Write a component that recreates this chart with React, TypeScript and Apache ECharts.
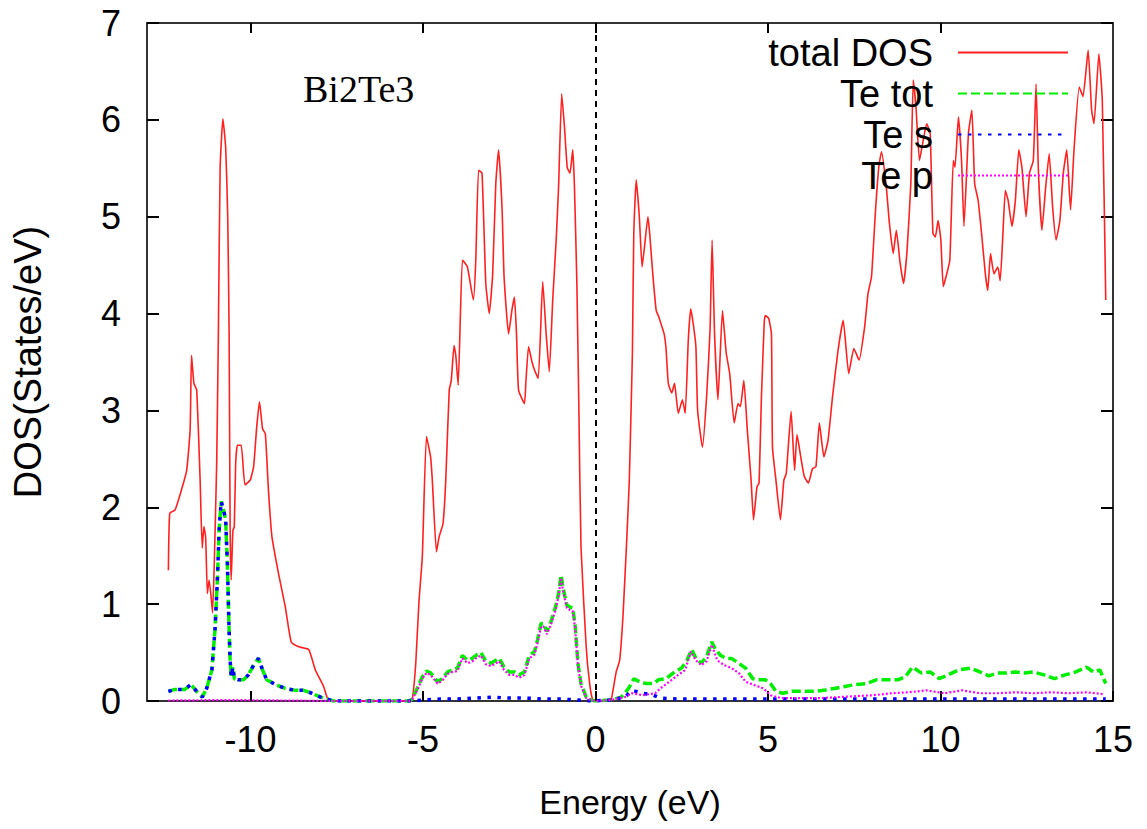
import React, { useEffect, useRef } from "react";
import * as echarts from "echarts";

const xTicks = [-10, -5, 0, 5, 10, 15];
const xTopTicks = [-10, -5, 0, 5, 10];
const seriesNames = ["total DOS", "Te tot", "Te s", "Te p"];

const totalDos: number[][] = [
  [-12.38, 1.35], [-12.34, 1.94], [-12.19, 1.97], [-12.0, 2.18], [-11.85, 2.38], [-11.75, 2.8],
  [-11.71, 3.57], [-11.64, 3.28], [-11.56, 3.21], [-11.46, 2.28], [-11.4, 1.58], [-11.35, 1.8],
  [-11.3, 1.69], [-11.25, 1.11], [-11.2, 1.25], [-11.14, 1.07], [-11.1, 0.91], [-11.05, 1.42],
  [-10.98, 2.46], [-10.93, 3.83], [-10.88, 5.51], [-10.8, 6.01], [-10.72, 5.72], [-10.66, 5.0],
  [-10.62, 3.8], [-10.59, 1.76], [-10.56, 1.25], [-10.51, 1.76], [-10.47, 1.8], [-10.43, 2.45],
  [-10.38, 2.64], [-10.27, 2.64], [-10.16, 2.23], [-10.01, 2.28], [-9.91, 2.42], [-9.82, 2.83],
  [-9.74, 3.09], [-9.65, 2.81], [-9.57, 2.76], [-9.48, 2.18], [-9.38, 1.7], [-9.19, 1.32],
  [-8.99, 0.97], [-8.82, 0.61], [-8.6, 0.56], [-8.31, 0.53], [-8.12, 0.32], [-7.88, 0.15],
  [-7.76, 0.02], [-7.6, 0], [-5.4, 0], [-5.31, 0.02], [-5.21, 0.39], [-5.12, 1.01], [-5.02, 1.49],
  [-4.9, 2.73], [-4.78, 2.52], [-4.73, 2.28], [-4.61, 1.54], [-4.53, 1.7], [-4.42, 1.83],
  [-4.34, 2.28], [-4.24, 3.21], [-4.18, 3.31], [-4.1, 3.67], [-4.05, 3.57], [-3.98, 3.26],
  [-3.86, 4.55], [-3.78, 4.52], [-3.71, 4.48], [-3.54, 4.14], [-3.47, 4.55], [-3.39, 5.48],
  [-3.29, 5.45], [-3.18, 4.31], [-3.08, 4.0], [-2.98, 4.41], [-2.89, 5.34], [-2.81, 5.69],
  [-2.71, 5.1], [-2.65, 4.38], [-2.52, 3.79], [-2.42, 4.04], [-2.35, 4.17], [-2.29, 3.79],
  [-2.23, 3.21], [-2.06, 3.07], [-2.02, 3.28], [-1.94, 3.66], [-1.84, 3.5], [-1.77, 3.42],
  [-1.66, 3.33], [-1.53, 4.33], [-1.43, 3.79], [-1.34, 3.4], [-1.24, 4.14], [-1.14, 4.76],
  [-1.07, 5.31], [-0.98, 6.27], [-0.9, 5.93], [-0.82, 5.51], [-0.74, 5.45], [-0.66, 5.69],
  [-0.61, 5.31], [-0.54, 4.31], [-0.48, 2.97], [-0.42, 1.59], [-0.27, 0.56], [-0.17, 0.18],
  [-0.08, 0.01], [0.0, 0], [0.4, 0], [0.46, 0.02], [0.6, 0.3], [0.7, 0.42], [0.8, 0.9],
  [0.91, 1.7], [0.98, 2.28], [1.04, 3.14], [1.07, 3.6], [1.11, 4.83], [1.18, 5.38], [1.27, 5.0],
  [1.35, 4.48], [1.42, 4.69], [1.52, 5.0], [1.57, 4.83], [1.66, 4.41], [1.76, 4.03], [1.83, 3.97],
  [1.93, 3.86], [1.99, 3.79], [2.04, 3.66], [2.11, 3.28], [2.21, 3.18], [2.29, 3.28], [2.4, 2.97],
  [2.52, 3.11], [2.6, 2.97], [2.69, 3.73], [2.76, 4.05], [2.83, 3.9], [2.91, 3.66], [2.96, 3.0],
  [3.1, 2.62], [3.22, 3.14], [3.32, 3.83], [3.38, 4.76], [3.45, 3.8], [3.55, 3.11], [3.68, 4.03],
  [3.79, 3.59], [3.89, 3.38], [4.02, 2.87], [4.13, 3.07], [4.2, 3.04], [4.3, 3.31], [4.4, 2.8],
  [4.51, 2.28], [4.58, 1.87], [4.68, 2.21], [4.74, 2.25], [4.81, 3.14], [4.89, 3.9], [4.92, 3.98],
  [5.02, 3.95], [5.1, 3.79], [5.13, 2.62], [5.23, 2.28], [5.36, 1.87], [5.46, 2.28], [5.53, 2.35],
  [5.67, 2.99], [5.77, 2.38], [5.84, 2.75], [5.95, 2.52], [6.05, 2.32], [6.17, 2.25], [6.29, 2.4],
  [6.39, 2.42], [6.49, 2.87], [6.62, 2.52], [6.74, 2.69], [6.87, 3.14], [7.03, 3.62], [7.18, 3.93],
  [7.34, 3.38], [7.49, 3.64], [7.64, 3.52], [7.8, 3.86], [7.9, 4.21], [8.0, 4.38], [8.11, 5.03],
  [8.21, 5.51], [8.29, 5.67], [8.42, 5.34], [8.52, 4.93], [8.63, 4.62], [8.72, 4.86], [8.83, 4.52],
  [8.93, 4.31], [9.03, 4.65], [9.14, 5.34], [9.21, 6.41], [9.29, 6.13], [9.39, 5.58], [9.5, 5.79],
  [9.6, 5.96], [9.7, 5.86], [9.78, 4.83], [9.85, 4.79], [9.93, 4.96], [10.01, 4.76], [10.08, 4.28],
  [10.16, 4.38], [10.27, 4.55], [10.37, 5.58], [10.42, 5.51], [10.52, 6.03], [10.61, 5.58],
  [10.68, 4.9], [10.81, 5.86], [10.91, 6.1], [10.99, 5.34], [11.09, 5.17], [11.19, 4.83],
  [11.3, 4.41], [11.37, 4.24], [11.45, 4.62], [11.55, 4.41], [11.66, 4.48], [11.73, 4.34],
  [11.81, 4.83], [11.88, 5.27], [11.96, 5.17], [12.07, 4.9], [12.17, 5.17], [12.27, 5.69],
  [12.36, 5.51], [12.48, 5.0], [12.58, 5.45], [12.69, 5.58], [12.77, 6.37], [12.84, 5.45],
  [12.94, 4.86], [13.05, 5.31], [13.15, 5.65], [13.25, 5.1], [13.35, 4.76], [13.46, 4.96],
  [13.56, 5.45], [13.66, 5.69], [13.77, 5.07], [13.87, 5.69], [14.02, 6.34], [14.13, 6.24],
  [14.28, 6.72], [14.38, 6.1], [14.45, 5.96], [14.59, 6.68], [14.69, 6.2], [14.79, 4.14],
];

const teTot: number[][] = [
  [-12.38, 0.1], [-12.19, 0.12], [-11.9, 0.12], [-11.73, 0.17], [-11.56, 0.1], [-11.4, 0.04],
  [-11.27, 0.13], [-11.12, 0.32], [-11.03, 0.73], [-10.96, 1.25], [-10.91, 1.76], [-10.85, 2.06],
  [-10.78, 1.97], [-10.72, 1.87], [-10.67, 1.42], [-10.62, 0.73], [-10.59, 0.42], [-10.56, 0.25],
  [-10.51, 0.35], [-10.47, 0.23], [-10.37, 0.22], [-10.2, 0.22], [-10.06, 0.27], [-9.91, 0.37],
  [-9.77, 0.44], [-9.65, 0.32], [-9.53, 0.22], [-9.28, 0.17], [-8.99, 0.13], [-8.7, 0.11],
  [-8.46, 0.11], [-8.22, 0.08], [-7.97, 0.04], [-7.78, 0.02], [-7.6, 0], [-5.4, 0],
  [-5.31, 0.02], [-5.17, 0.13], [-5.02, 0.25], [-4.9, 0.31], [-4.78, 0.29], [-4.58, 0.2],
  [-4.44, 0.23], [-4.29, 0.3], [-4.15, 0.32], [-4.0, 0.34], [-3.86, 0.47], [-3.71, 0.42],
  [-3.57, 0.44], [-3.47, 0.47], [-3.32, 0.5], [-3.18, 0.41], [-3.03, 0.39], [-2.89, 0.42],
  [-2.79, 0.44], [-2.65, 0.35], [-2.5, 0.3], [-2.35, 0.3], [-2.21, 0.27], [-2.06, 0.3],
  [-1.92, 0.47], [-1.77, 0.51], [-1.68, 0.63], [-1.58, 0.8], [-1.51, 0.8], [-1.41, 0.72],
  [-1.29, 0.82], [-1.16, 0.97], [-1.07, 1.11], [-1.0, 1.3], [-0.93, 1.15], [-0.83, 0.99],
  [-0.74, 0.97], [-0.66, 0.96], [-0.59, 0.78], [-0.51, 0.39], [-0.42, 0.18], [-0.27, 0.04],
  [-0.13, 0.01], [0.0, 0], [0.44, 0.01], [0.75, 0.04], [0.96, 0.13], [1.11, 0.23], [1.27, 0.2],
  [1.47, 0.18], [1.68, 0.18], [1.83, 0.22], [2.04, 0.23], [2.29, 0.3], [2.5, 0.34], [2.65, 0.42],
  [2.79, 0.53], [2.91, 0.44], [3.07, 0.39], [3.22, 0.46], [3.37, 0.61], [3.48, 0.53], [3.63, 0.47],
  [3.79, 0.44], [3.94, 0.44], [4.15, 0.39], [4.35, 0.34], [4.56, 0.23], [4.71, 0.22], [4.92, 0.22],
  [5.07, 0.18], [5.23, 0.1], [5.43, 0.08], [5.69, 0.1], [6.0, 0.1], [6.31, 0.1], [6.62, 0.11],
  [6.92, 0.13], [7.23, 0.15], [7.54, 0.17], [7.85, 0.18], [8.16, 0.22], [8.47, 0.22], [8.78, 0.22],
  [8.98, 0.25], [9.19, 0.35], [9.44, 0.29], [9.7, 0.3], [9.96, 0.23], [10.22, 0.27], [10.52, 0.32],
  [10.88, 0.34], [11.14, 0.3], [11.4, 0.26], [11.66, 0.29], [11.91, 0.29], [12.17, 0.3],
  [12.43, 0.29], [12.69, 0.3], [13.0, 0.27], [13.3, 0.23], [13.61, 0.27], [13.92, 0.3],
  [14.23, 0.35], [14.43, 0.3], [14.62, 0.32], [14.79, 0.18],
];

const teS: number[][] = [
  [-12.38, 0.1], [-12.19, 0.12], [-11.9, 0.12], [-11.73, 0.17], [-11.56, 0.1], [-11.4, 0.04],
  [-11.27, 0.13], [-11.12, 0.32], [-11.03, 0.73], [-10.96, 1.25], [-10.91, 1.76], [-10.85, 2.06],
  [-10.78, 1.97], [-10.72, 1.87], [-10.67, 1.42], [-10.62, 0.73], [-10.59, 0.42], [-10.56, 0.25],
  [-10.51, 0.35], [-10.47, 0.23], [-10.37, 0.22], [-10.2, 0.22], [-10.06, 0.27], [-9.91, 0.37],
  [-9.77, 0.44], [-9.65, 0.32], [-9.53, 0.22], [-9.28, 0.17], [-8.99, 0.13], [-8.7, 0.11],
  [-8.46, 0.11], [-8.22, 0.08], [-7.97, 0.04], [-7.78, 0.02], [-7.6, 0], [-5.4, 0],
  [-5.0, 0.01], [-4.5, 0.02], [-4.0, 0.02], [-3.5, 0.03], [-3.0, 0.04], [-2.5, 0.03],
  [-2.0, 0.03], [-1.5, 0.02], [-1.0, 0.02], [-0.5, 0.01], [-0.13, 0.0], [0.44, 0.01],
  [0.85, 0.04], [1.06, 0.11], [1.37, 0.08], [1.68, 0.06], [1.88, 0.03], [2.4, 0.02],
  [4.0, 0.02], [6.0, 0.02], [8.0, 0.02], [10.0, 0.02], [12.0, 0.02], [14.79, 0.02],
];

const teP: number[][] = [
  [-12.38, 0.005], [-10.8, 0.01], [-9.0, 0.005], [-7.6, 0], [-5.4, 0], [-5.31, 0.02],
  [-5.17, 0.11], [-5.02, 0.23], [-4.9, 0.29], [-4.78, 0.27], [-4.58, 0.18], [-4.44, 0.21],
  [-4.29, 0.28], [-4.15, 0.3], [-4.0, 0.31], [-3.86, 0.44], [-3.71, 0.39], [-3.57, 0.41],
  [-3.47, 0.44], [-3.32, 0.47], [-3.18, 0.38], [-3.03, 0.36], [-2.89, 0.39], [-2.79, 0.41],
  [-2.65, 0.32], [-2.5, 0.27], [-2.35, 0.27], [-2.21, 0.24], [-2.06, 0.27], [-1.92, 0.44],
  [-1.77, 0.48], [-1.68, 0.6], [-1.58, 0.77], [-1.51, 0.77], [-1.41, 0.69], [-1.29, 0.79],
  [-1.16, 0.94], [-1.07, 1.08], [-1.0, 1.27], [-0.93, 1.12], [-0.83, 0.96], [-0.74, 0.94],
  [-0.66, 0.93], [-0.59, 0.75], [-0.51, 0.37], [-0.42, 0.16], [-0.27, 0.03], [-0.13, 0.01],
  [0.0, 0], [0.44, 0.01], [0.85, 0.04], [1.06, 0.08], [1.37, 0.06], [1.73, 0.08], [1.88, 0.13],
  [2.14, 0.2], [2.4, 0.27], [2.6, 0.32], [2.76, 0.51], [2.91, 0.42], [3.07, 0.37], [3.22, 0.41],
  [3.37, 0.58], [3.53, 0.42], [3.73, 0.37], [3.94, 0.34], [4.15, 0.29], [4.35, 0.2], [4.56, 0.17],
  [4.87, 0.13], [5.07, 0.06], [5.38, 0.03], [6.0, 0.03], [6.51, 0.03], [7.03, 0.04], [7.54, 0.05],
  [8.06, 0.06], [8.57, 0.08], [9.08, 0.09], [9.6, 0.11], [10.11, 0.08], [10.63, 0.11],
  [11.14, 0.08], [11.66, 0.08], [12.17, 0.09], [12.69, 0.08], [13.2, 0.09], [13.71, 0.08],
  [14.23, 0.09], [14.74, 0.07],
];

const FONT = "'Liberation Sans', Arial, sans-serif";

export default function App() {
  const ref = useRef<HTMLDivElement>(null);
  useEffect(() => {
    if (!ref.current) return;
    const chart = echarts.init(ref.current, undefined, { renderer: "svg" });
    const axisLine = { show: true, onZero: false, lineStyle: { color: "#333", width: 2 } };
    const option: any = {
      animation: false,
      backgroundColor: "#fff",
      grid: { left: 147, right: 34, top: 23, bottom: 128, containLabel: false },
      legend: {
        data: seriesNames,
        orient: "vertical",
        align: "right",
        right: 73,
        top: 27,
        itemWidth: 110,
        itemHeight: 14,
        itemGap: 0,
        selectedMode: false,
        itemStyle: { opacity: 0 },
        textStyle: {
          fontFamily: FONT,
          fontSize: 38,
          color: "#000",
          lineHeight: 41,
          padding: [0, 20, 0, 0],
        },
      },
      xAxis: [
        {
          type: "value",
          min: -13,
          max: 15,
          position: "bottom",
          name: "Energy (eV)",
          nameLocation: "middle",
          nameGap: 84,
          nameTextStyle: { fontFamily: FONT, fontSize: 34, color: "#000" },
          axisLine,
          splitLine: { show: false },
          axisTick: { inside: true, length: 10, customValues: xTicks, lineStyle: { color: "#000", width: 2 } },
          axisLabel: { customValues: xTicks, fontFamily: FONT, fontSize: 36, color: "#000", margin: 20 },
        },
        {
          type: "value",
          min: -13,
          max: 15,
          position: "top",
          axisLine,
          splitLine: { show: false },
          axisTick: { inside: true, length: 10, customValues: xTopTicks, lineStyle: { color: "#000", width: 2 } },
          axisLabel: { show: false },
        },
      ],
      yAxis: [
        {
          type: "value",
          min: 0,
          max: 7,
          interval: 1,
          position: "left",
          name: "DOS(States/eV)",
          nameLocation: "middle",
          nameGap: 100,
          nameTextStyle: { fontFamily: FONT, fontSize: 38, color: "#000" },
          axisLine,
          splitLine: { show: false },
          axisTick: { inside: true, length: 12, lineStyle: { color: "#000", width: 2 } },
          axisLabel: { fontFamily: FONT, fontSize: 36, color: "#000", margin: 26 },
        },
        {
          type: "value",
          min: 0,
          max: 7,
          interval: 1,
          position: "right",
          axisLine,
          splitLine: { show: false },
          axisTick: { inside: true, length: 12, lineStyle: { color: "#000", width: 2 } },
          axisLabel: { show: false },
        },
      ],
      graphic: [
        {
          type: "text",
          left: 303,
          top: 70,
          style: { text: "Bi2Te3", fontFamily: "'Liberation Serif', 'Times New Roman', serif", fontSize: 38, fill: "#000" },
        },
      ],
      series: [
        {
          name: seriesNames[0],
          type: "line",
          data: totalDos,
          symbol: "none",
          smooth: 0.15,
          color: "#ff2020",
          lineStyle: { color: "#ff2020", width: 1.6 },
          markLine: {
            silent: true,
            symbol: "none",
            label: { show: false },
            lineStyle: { color: "#000", type: [6, 5], width: 2 },
            data: [{ xAxis: 0 }],
          },
          z: 2,
        },
        {
          name: seriesNames[1],
          type: "line",
          data: teTot,
          symbol: "none",
          color: "#00ee00",
          lineStyle: { color: "#00ee00", width: 3.5, type: [9, 4] },
          z: 3,
        },
        {
          name: seriesNames[2],
          type: "line",
          data: teS,
          symbol: "none",
          color: "#0000ff",
          lineStyle: { color: "#0000ff", width: 3.5, type: [3.5, 6.5] },
          z: 4,
        },
        {
          name: seriesNames[3],
          type: "line",
          data: teP,
          symbol: "none",
          color: "#ff00ff",
          lineStyle: { color: "#ff00ff", width: 2.2, type: [2, 2] },
          z: 5,
        },
      ],
    };
    chart.setOption(option);
    return () => chart.dispose();
  }, []);
  return (
    <div
      ref={ref}
      style={{ position: "fixed", left: 0, top: 0, width: 1147, height: 829, background: "#fff" }}
    />
  );
}
